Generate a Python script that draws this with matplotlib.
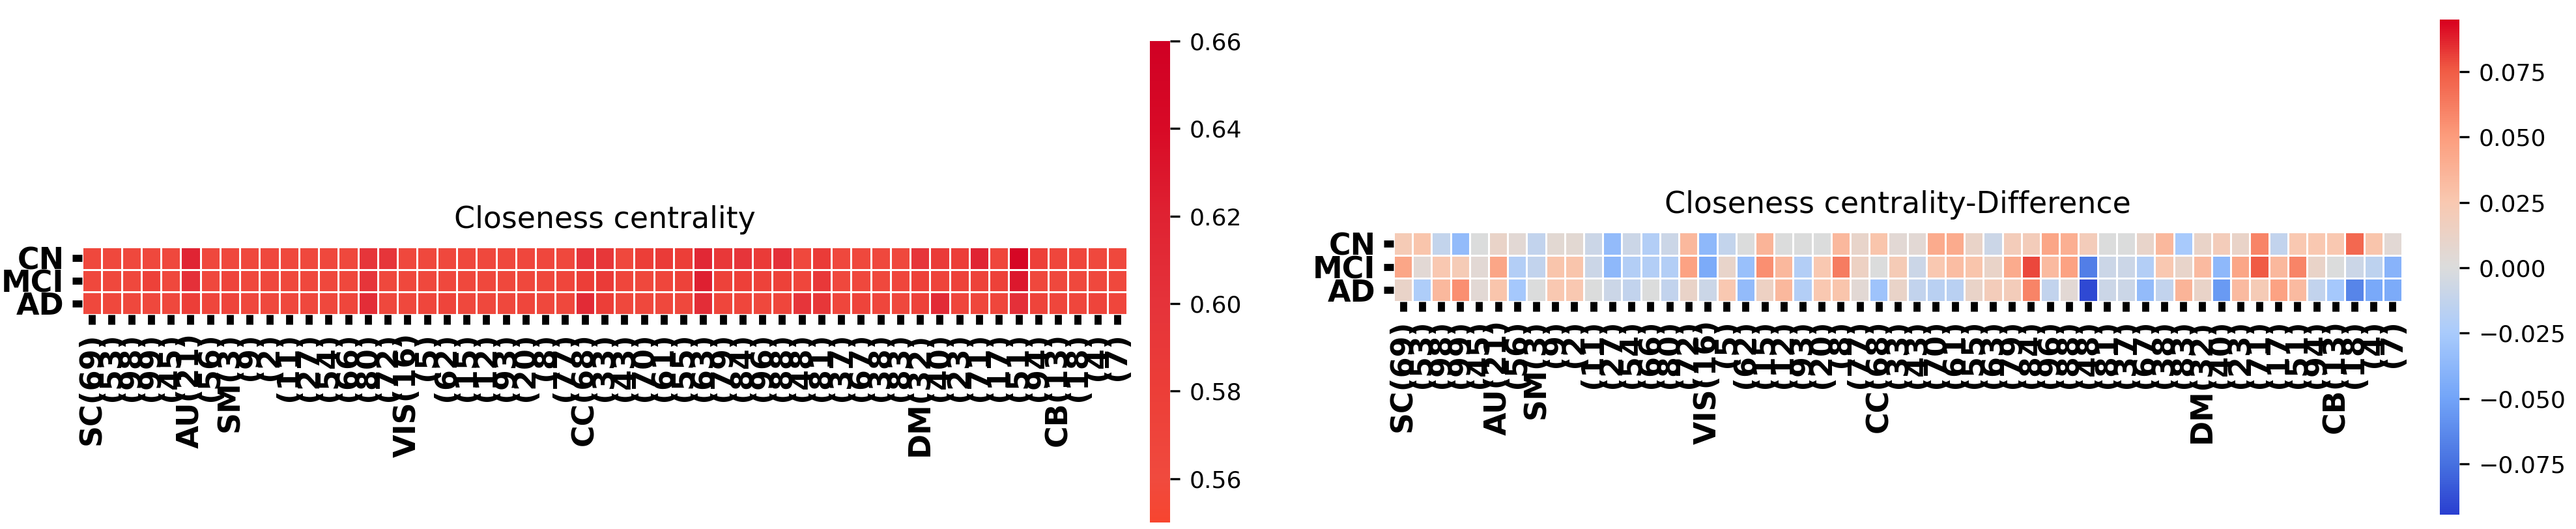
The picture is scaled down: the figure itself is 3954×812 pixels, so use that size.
import numpy as np
import matplotlib
matplotlib.use("Agg")
import matplotlib.pyplot as plt
from matplotlib.colors import LinearSegmentedColormap

plt.rcParams['font.family'] = ['DejaVu Sans']

# ---------------- data ----------------
groups = ["CN", "MCI", "AD"]
regions = ["SC(69)", "(53)", "(98)", "(99)", "(45)",
           "AU(21)", "(56)",
           "SM(3)", "(9)", "(2)", "(11)", "(27)", "(54)", "(66)", "(80)", "(72)",
           "VIS(16)", "(5)", "(62)", "(15)", "(12)", "(93)", "(20)", "(8)", "(77)",
           "CC(68)", "(33)", "(43)", "(70)", "(61)", "(55)", "(63)", "(79)", "(84)",
           "(96)", "(88)", "(48)", "(81)", "(37)", "(67)", "(38)", "(83)",
           "DM(32)", "(40)", "(23)", "(71)", "(17)", "(51)", "(94)",
           "CB(13)", "(18)", "(4)", "(7)"]

close_cn = [0.563, 0.563, 0.563, 0.563, 0.563, 0.618, 0.563, 0.563, 0.563, 0.563,
            0.563, 0.563, 0.563, 0.563, 0.597, 0.597, 0.563, 0.563, 0.563, 0.563,
            0.563, 0.563, 0.565, 0.565, 0.563, 0.597, 0.593, 0.563, 0.580, 0.585,
            0.580, 0.613, 0.590, 0.597, 0.585, 0.603, 0.563, 0.585, 0.563, 0.563,
            0.563, 0.563, 0.597, 0.585, 0.580, 0.618, 0.567, 0.645, 0.577, 0.567,
            0.567, 0.563, 0.563]
close_mci = [0.563, 0.563, 0.563, 0.575, 0.563, 0.603, 0.563, 0.570, 0.563, 0.563,
             0.563, 0.563, 0.563, 0.563, 0.597, 0.563, 0.563, 0.563, 0.563, 0.563,
             0.563, 0.563, 0.563, 0.563, 0.567, 0.580, 0.585, 0.567, 0.563, 0.567,
             0.573, 0.622, 0.573, 0.577, 0.573, 0.575, 0.567, 0.590, 0.563, 0.563,
             0.563, 0.567, 0.575, 0.570, 0.573, 0.573, 0.575, 0.628, 0.563, 0.563,
             0.563, 0.563, 0.563]
close_ad = [0.563, 0.563, 0.563, 0.563, 0.563, 0.580, 0.567, 0.570, 0.563, 0.563,
            0.563, 0.563, 0.563, 0.567, 0.607, 0.563, 0.563, 0.567, 0.570, 0.563,
            0.563, 0.563, 0.567, 0.563, 0.563, 0.610, 0.580, 0.563, 0.563, 0.563,
            0.563, 0.607, 0.567, 0.567, 0.563, 0.567, 0.597, 0.593, 0.567, 0.570,
            0.567, 0.563, 0.573, 0.610, 0.567, 0.567, 0.567, 0.603, 0.570, 0.567,
            0.567, 0.570, 0.567]

diff_cn = [0.022, 0.027, -0.012, -0.035, 0.000, 0.012, 0.005, -0.013, 0.006, 0.006,
           -0.008, -0.035, -0.008, -0.020, -0.008, 0.035, -0.037, -0.012, 0.000, 0.037,
           0.000, 0.000, 0.000, 0.035, 0.010, 0.027, 0.005, 0.005, 0.042, 0.042,
           0.012, -0.008, 0.020, 0.020, 0.045, 0.040, 0.020, 0.000, 0.000, 0.010,
           0.035, -0.025, 0.012, 0.020, 0.012, 0.060, -0.013, 0.025, 0.025, 0.025,
           0.070, 0.027, 0.005]
diff_mci = [0.045, 0.005, 0.025, 0.022, 0.005, 0.045, -0.020, -0.013, 0.027, 0.027,
            -0.008, -0.037, -0.020, -0.020, -0.020, 0.047, -0.045, 0.010, -0.032, 0.055,
            0.035, -0.020, 0.025, 0.063, 0.015, 0.000, 0.022, -0.008, 0.025, 0.032,
            0.027, 0.012, 0.042, 0.080, 0.033, 0.047, -0.068, -0.008, -0.008, -0.020,
            0.025, 0.010, 0.033, -0.037, 0.045, 0.075, 0.035, 0.060, 0.012, 0.000,
            -0.008, -0.015, -0.040]
diff_ad = [0.012, -0.022, 0.035, 0.055, 0.005, 0.027, -0.027, 0.000, 0.025, 0.025,
           0.000, -0.008, -0.013, 0.000, -0.013, 0.012, -0.008, 0.025, -0.035, 0.015,
           0.035, -0.020, 0.025, 0.027, 0.005, -0.030, 0.012, -0.013, -0.017, -0.017,
           0.012, 0.020, 0.020, 0.060, -0.013, 0.005, -0.090, -0.008, -0.008, -0.035,
           -0.013, 0.037, 0.012, -0.055, 0.033, 0.022, 0.047, 0.033, -0.013, -0.027,
           -0.065, -0.047, -0.045]

# ---------------- colormaps ----------------
cmap_close = LinearSegmentedColormap.from_list(
    "close", [(0.0, "#f7452f"), (0.0909, "#f04a3e"), (0.2727, "#ec3e38"),
              (0.4545, "#e5333a"), (0.6364, "#df2232"), (0.8182, "#d80a26"),
              (1.0, "#d00024")])
cmap_diff = LinearSegmentedColormap.from_list(
    "diff", [(0.0, "#2a3fd0"), (0.1, "#4670e0"), (0.234, "#72a4f8"),
             (0.367, "#a9cbfc"), (0.5, "#dcdcdc"), (0.633, "#f9c8b0"),
             (0.766, "#fc9c7c"), (0.9, "#f05a44"), (1.0, "#d8001f")])

W, H = 3954, 812
fig = plt.figure(figsize=(W / 300, H / 300), dpi=300)


def frac(x0, x1, ytop, ybot):
    return [x0 / W, 1 - ybot / H, (x1 - x0) / W, (ybot - ytop) / H]


def draw(ax, cax, data, cmap, vmin, vmax, title, cticks):
    mesh = ax.pcolormesh(np.array(data), cmap=cmap, vmin=vmin, vmax=vmax,
                         edgecolors="white", linewidth=0.7)
    ax.set_xlim(0, len(regions))
    ax.set_ylim(len(groups), 0)
    ax.set_xticks(np.arange(len(regions)) + 0.5)
    ax.set_xticklabels(regions, rotation=90, fontsize=11, fontweight="bold")
    ax.set_yticks(np.arange(len(groups)) + 0.5)
    ax.set_yticklabels(groups, rotation=0, fontsize=11, fontweight="bold")
    ax.tick_params(axis="both", length=3.6, width=2.6, color="black", pad=3)
    for s in ax.spines.values():
        s.set_visible(False)
    ax.set_title(title, fontsize=11, pad=7)
    cb = fig.colorbar(mesh, cax=cax)
    cb.outline.set_visible(False)
    cb.set_ticks(cticks)
    cax.tick_params(labelsize=8.7, length=3.5, width=0.8)


ax1 = fig.add_axes(frac(126, 1730, 379, 483))
cax1 = fig.add_axes(frac(1765, 1796, 63, 802))
draw(ax1, cax1, [close_cn, close_mci, close_ad], cmap_close, 0.55, 0.66,
     "Closeness centrality", [0.56, 0.58, 0.60, 0.62, 0.64, 0.66])

ax2 = fig.add_axes(frac(2139, 3687, 356, 463))
cax2 = fig.add_axes(frac(3745, 3775, 30, 790))
draw(ax2, cax2, [diff_cn, diff_mci, diff_ad], cmap_diff, -0.0944, 0.0949,
     "Closeness centrality-Difference",
     [-0.075, -0.05, -0.025, 0.0, 0.025, 0.05, 0.075])
cax2.set_yticklabels(["\u22120.075", "\u22120.050", "\u22120.025", "0.000",
                      "0.025", "0.050", "0.075"])

fig.savefig("out.png", dpi=300)
